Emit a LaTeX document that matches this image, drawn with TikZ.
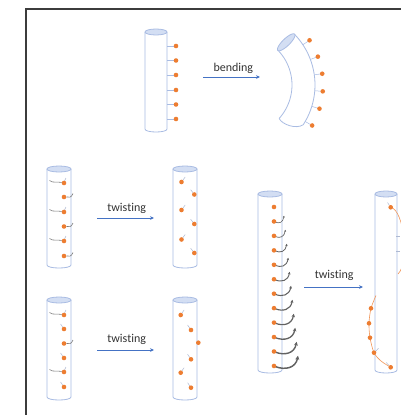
\documentclass[tikz,border=0pt]{standalone}
\usepackage{fontspec}
\setsansfont[Ligatures=NoCommon]{Carlito}
\usetikzlibrary{arrows.meta}

\definecolor{tubeblue}{HTML}{A9BCE3}
\definecolor{capblue}{HTML}{D3DEF3}
\definecolor{beadorange}{HTML}{ED7D31}
\definecolor{flowblue}{HTML}{4472C4}
\definecolor{curlgray}{HTML}{7A7A7A}
\definecolor{stubgray}{HTML}{AEB9D2}
\definecolor{framegray}{HTML}{3C3C3C}

\tikzset{
  tubeline/.style={draw=tubeblue, line width=0.8pt},
  tubecap/.style={draw=tubeblue, fill=capblue, line width=0.8pt},
  bead/.style={circle, fill=beadorange, inner sep=0pt, minimum size=4.6pt},
  motion/.style={draw=flowblue, line width=0.9pt, -{Stealth[length=4pt,width=3.6pt]}},
  caption/.style={font=\sffamily\fontsize{12}{14}\selectfont, text=black!80, inner sep=0pt},
  twirl/.style={draw=curlgray, line width=0.6pt},
  stub/.style={draw=stubgray, line width=0.5pt},
  strand/.style={draw=beadorange!80, line width=0.6pt},
}

% straight tube: left x, right x, top y, bottom y
\newcommand\drawtube[4]{%
  \draw[tubeline] (#1,#3) -- (#1,#4) .. controls (#1,#4+4) and (#2,#4+4) .. (#2,#4) -- (#2,#3);
  \draw[tubecap] ({(#1+#2)/2},#3) ellipse [x radius={(#2-#1)/2}, y radius=3];
}

\begin{document}
\begin{tikzpicture}[x=1pt, y=-1pt]
  \useasboundingbox (0,0) rectangle (401,415);
  \fill[white] (0,0) rectangle (401,415);
  \clip (0,0) rectangle (401,415);

  % frame corner
  \draw[framegray, line width=1.1pt] (26,416) -- (26,9) -- (402,9);

  % ---------- bending ----------
  \drawtube{145}{167}{32}{129}
  \foreach \yy in {46,60.5,75,90,104.5,119} {
    \draw[stub, draw=tubeblue] (167,\yy) -- (174,\yy);
    \node[bead] at (176,\yy) {};
  }
  \coordinate (bendfrom) at (203,77);
  \coordinate (bendto) at (260,77);
  \draw[motion] (bendfrom) -- (bendto);
  \node[caption] (bendlabel) at (233.3,68) {bending};

  % bent tube, arc centred at (242,85)
  \draw[tubeline] plot[smooth, domain=-44:33, samples=25] ({242+73*cos(\x)},{85+73*sin(\x)});
  \draw[tubeline] plot[smooth, domain=-44:42, samples=25] ({242+50*cos(\x)},{85+50*sin(\x)});
  \draw[tubeline] ({242+50*cos(42)},{85+50*sin(42)}) .. controls (282,124.5) and (296,129.5) .. ({242+73*cos(33)},{85+73*sin(33)});
  \draw[tubecap] plot[smooth cycle, domain=0:350, samples=36]
    ({286.2+11.7*cos(\x)*0.719+3.6*sin(\x)*0.695},{42.3-11.7*cos(\x)*0.695+3.6*sin(\x)*0.719});
  \foreach \a in {-33.5,-20.5,-8,4.5,17,30} {
    \draw[stub, draw=tubeblue] ({242+73*cos(\a)},{85+73*sin(\a)}) -- ({242+79*cos(\a)},{85+79*sin(\a)});
    \node[bead] at ({242+81*cos(\a)},{85+81*sin(\a)}) {};
  }

  % ---------- twisting, alternating ----------
  \drawtube{47}{71}{169}{265}
  \foreach \yy in {183,212,241} {
    \draw[twirl] (49.5,\yy-2.5) .. controls (53,\yy+0.5) and (57,\yy-1.8) .. (61.5,\yy-0.5);
    \draw[stub] (64.5,\yy-2) -- (66,\yy-5);
    \node[bead] at (64,\yy) {};
  }
  \foreach \yy in {197,226.5,256} {
    \draw[twirl] (66.5,\yy) .. controls (69,\yy+1.2) and (71.5,\yy+0.2) .. (73,\yy-3.5);
    \node[bead] at (64,\yy) {};
  }
  \coordinate (midfrom) at (97,218);
  \coordinate (midto) at (154,218);
  \draw[motion] (midfrom) -- (midto);
  \node[caption] (midlabel) at (126.7,208.7) {twisting};

  \drawtube{173}{197}{169}{265}
  \foreach \yy in {182,210,239.5} {
    \draw[stub] (182.8,\yy-1.8) -- (185.2,\yy-5);
    \node[bead] at (181.5,\yy) {};
  }
  \foreach \yy in {194.5,224,253} {
    \draw[stub] (193,\yy-1.8) -- (190.6,\yy-4.8);
    \node[bead] at (194.3,\yy) {};
  }

  % ---------- twisting, lower row ----------
  \drawtube{47}{71}{300}{397}
  \foreach \yy in {315,372} {
    \draw[twirl] (49.5,\yy-2.5) .. controls (53,\yy+0.5) and (57,\yy-1.8) .. (61.5,\yy-0.5);
    \draw[stub] (64.5,\yy-2) -- (66,\yy-5);
  }
  \draw[twirl] (66.5,343.5) .. controls (69,344.7) and (71.5,343.7) .. (73,340);
  \foreach \yy in {329,358,387} {
    \draw[stub] (62.6,\yy-2) -- (60.6,\yy-5);
  }
  \foreach \yy in {315,329,343.5,358,372,387} {
    \node[bead] at (64,\yy) {};
  }
  \coordinate (lowfrom) at (97,350);
  \coordinate (lowto) at (154,350);
  \draw[motion] (lowfrom) -- (lowto);
  \node[caption] (lowlabel) at (126.7,339.7) {twisting};

  \drawtube{173}{197}{300}{397}
  \foreach \xx/\yy/\ddx in {180.7/315/1, 191/330/-1, 191/359.3/-1, 180.7/372.7/1, 191/387.7/-1} {
    \draw[stub] (\xx+1.2*\ddx,\yy-1.8) -- (\xx+3.4*\ddx,\yy-5);
    \node[bead] at (\xx,\yy) {};
  }
  \node[bead] at (198.3,342.7) {};

  % ---------- twisting, long tube ----------
  \drawtube{258}{282}{194}{370}
  \node[bead] at (274,207) {};
  \foreach \j in {1,...,11} {
    \pgfmathsetmacro\yy{207+14.45*\j}
    \pgfmathsetmacro\dx{9+1.4*(\j-1)}
    \pgfmathsetmacro\hh{5.7+0.45*(\j-1)}
    \pgfmathsetmacro\lw{0.5+0.09*\j}
    \pgfmathsetmacro\al{1.6+0.22*\j}
    \draw[twirl, draw=curlgray!80!black, line width=\lw pt, -{Stealth[length=\al pt, width=\al pt]}]
      (275,\yy+0.5) .. controls (275+0.45*\dx,\yy+0.45*\hh) and (275+0.9*\dx,\yy+0.2*\hh) .. (275+\dx,\yy-\hh);
    \node[bead] at (274,\yy) {};
  }
  \coordinate (longfrom) at (304,287);
  \coordinate (longto) at (363,287);
  \draw[motion] (longfrom) -- (longto);
  \node[caption] (longlabel) at (334.2,275.8) {twisting};

  \drawtube{375}{397}{194}{370}
  \draw[strand] (390.7,207.3) .. controls (404,210) and (410,262) .. (398,274);
  \draw[stub] (389.5,205.5) -- (387.5,202.5);
  \draw[stub] (396,236.7) -- (399.5,236.7);
  \draw[stub] (396,251.7) -- (399.5,251.7);
  \node[bead] at (390.7,207.3) {};
  \draw[strand] plot[smooth] coordinates {(376,295.5) (371,308.3) (369,323.3) (370,337.7) (374,352.7) (381,361) (390.7,367.3)};
  \draw[stub] (375.5,351.5) -- (378.5,348.2);
  \draw[stub] (389,365.5) -- (386.3,362.6);
  \foreach \xx/\yy in {371/308.3, 369/323.3, 370/337.7, 374/352.7, 390.7/367.3} {
    \node[bead] at (\xx,\yy) {};
  }
\end{tikzpicture}
\end{document}
